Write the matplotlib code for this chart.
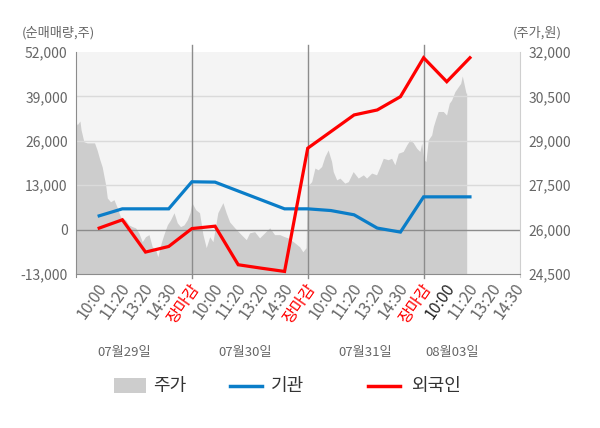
import matplotlib
matplotlib.use("Agg")
import matplotlib.pyplot as plt
from matplotlib.patches import Rectangle
from matplotlib.lines import Line2D
import numpy as np

plt.rcParams['font.family'] = ['Noto Sans CJK KR', 'DejaVu Sans']

# ---- data ----
tick_labels = ["10:00", "11:20", "13:20", "14:30", "장마감",
               "10:00", "11:20", "13:20", "14:30", "장마감",
               "10:00", "11:20", "13:20", "14:30", "장마감",
               "10:00", "11:20", "13:20", "14:30"]
day_labels = ["07월29일", "07월30일", "07월31일", "08월03일"]
day_label_pos = [2.1, 7.28, 12.49, 16.21]
close_pos = [5, 10, 15]

inst = [4030, 6080, 6080, 6080, 14000,
        13900, 11290, 8690, 6080, 6080,
        5580, 4330, 440, -730, 9590,
        9590, 9590]
foreign = [440, 2870, -6580, -4940, 300,
           1000, -10290, -11300, -12250, 23830,
           28700, 33570, 35030, 38920, 50320,
           43300, 50320]

price_x = [0, 0.05, 0.17, 0.22, 0.34, 0.48, 0.70, 0.80, 0.91, 1.03, 1.13, 1.28, 1.35,
           1.49, 1.64, 1.78, 1.92, 2.14, 2.28, 2.43, 2.57, 2.71, 2.86, 3.00, 3.15, 3.29,
           3.44, 3.53, 3.68, 3.79, 3.94, 4.08, 4.23, 4.37, 4.51, 4.66, 4.80, 4.92,
           5.00, 5.17, 5.33, 5.48, 5.62, 5.77, 5.91, 6.12, 6.34, 6.48, 6.63, 6.85,
           7.13, 7.35, 7.49, 7.71, 7.92, 8.14, 8.36, 8.57, 8.79, 9.00, 9.15, 9.43,
           9.65, 9.79, 9.93,
           9.98, 10.17, 10.31, 10.45, 10.60, 10.74, 10.88, 11.03, 11.10, 11.25, 11.39,
           11.60, 11.75, 11.96, 12.18, 12.40, 12.54, 12.76, 12.97, 13.12, 13.26, 13.47,
           13.62, 13.76, 13.91, 14.12, 14.27, 14.41, 14.55, 14.70, 14.84, 14.92,
           15.01, 15.10, 15.20, 15.35, 15.42, 15.53, 15.63, 15.85, 15.99, 16.11, 16.21,
           16.35, 16.50, 16.60, 16.67, 16.74, 16.83, 16.86]
price = [29650, 29540, 29670, 29370, 28970, 28930, 28930, 28930, 28690, 28360, 28120,
         27510, 27070, 26940, 27010, 26740, 26430, 26330, 26160, 26100, 26060, 25890,
         25590, 25760, 25830, 25420, 25320, 25080, 25560, 25830, 26160, 26330, 26570,
         26230, 26100, 26160, 26330, 26570,
         26910, 26670, 26570, 25830, 25390, 25760, 25590, 26570, 26910, 26570, 26260,
         26060, 25830, 25660, 25890, 25930, 25720, 25890, 26060, 25830, 25830, 25760,
         25720, 25560, 25420, 25250, 25390,
         27460, 27620, 28080, 28020, 28130, 28470, 28690, 28300, 27960, 27680, 27740,
         27570, 27620, 27960, 27740, 27850, 27740, 27910, 27850, 28130, 28410, 28360,
         28410, 28190, 28580, 28640, 28860, 29030, 28940, 28750, 28640, 28920,
         28360, 28300, 29030, 29200, 29480, 29760, 29990, 29990, 29870, 30270, 30380,
         30660, 30830, 30940, 31190, 30940, 30610, 30610]

left_ticks = [-13000, 0, 13000, 26000, 39000, 52000]
right_ticks = [24500, 26000, 27500, 29000, 30500, 32000]

# ---- style ----
C_BG = "#f4f4f4"
C_AREA = "#cdcdcd"
C_BLUE = "#0a7dc8"
C_RED = "#ff0000"
C_TXT = "#666666"
C_GRID = "#dadada"
C_DARK = "#8c8c8c"

fig = plt.figure(figsize=(6.0, 4.28), dpi=100)
W, H = 600, 428
L, R, T, B = 76, 520, 52, 274
ax = fig.add_axes([L / W, 1 - B / H, (R - L) / W, (B - T) / H])
ax.set_facecolor(C_BG)
ax.set_xlim(0, 19.16)
ax.set_ylim(24500, 32000)

# price area (right scale)
ax.fill_between(price_x, 24500, price, color=C_AREA, linewidth=0, zorder=1)

# grid lines
for v in right_ticks[1:-1]:
    ax.axhline(v, color=(C_DARK if v == 26000 else C_GRID), lw=1.0, zorder=2)
for p in close_pos:
    ax.axvline(p, ymin=-0.02, ymax=1.03, color=C_DARK, lw=1.0, zorder=2, clip_on=False)

ax.spines['top'].set_visible(False)
ax.spines['left'].set_color(C_DARK)
ax.spines['bottom'].set_color(C_DARK)
ax.spines['right'].set_color("#cfcfcf")
ax.spines['left'].set_bounds(24500 - 0.015 * 7500, 32000)
ax.spines['right'].set_bounds(24500 - 0.015 * 7500, 32000)

ax.set_xticks(np.arange(1, 20))
ax.set_xticklabels([])
ax.tick_params(axis='x', length=0)

# left-scale axes for the net buy lines
ax2 = ax.twinx()
ax2.set_ylim(-13000, 52000)
ax2.patch.set_visible(False)
for s in ax2.spines.values():
    s.set_visible(False)
ax2.yaxis.tick_left()
ax2.set_yticks(left_ticks)
ax2.set_yticklabels([f"{v:,}" for v in left_ticks], color=C_TXT, fontsize=10)
ax2.tick_params(axis='y', length=0, pad=6)

ax.yaxis.tick_right()
ax.set_yticks(right_ticks)
ax.set_yticklabels([f"{v:,}" for v in right_ticks], color=C_TXT, fontsize=10)
ax.tick_params(axis='y', length=0, pad=6)

line_x = np.arange(1, len(inst) + 1)
ax2.plot(line_x, inst, color=C_BLUE, lw=2.3, zorder=4, solid_joinstyle='miter')
ax2.plot(np.arange(1, len(foreign) + 1), foreign, color=C_RED, lw=2.3, zorder=5,
         solid_joinstyle='miter')

# x tick labels
trans = ax.get_xaxis_transform()
for i, lab in enumerate(tick_labels):
    pos = i + 1
    if lab == "장마감":
        col = C_RED
    elif i == 15:
        col = "#222222"
    else:
        col = C_TXT
    ax.text(pos + 0.2, -0.05, lab, transform=trans, rotation=55,
            rotation_mode='anchor', ha='right', va='center', fontsize=11.5,
            color=col)

for p, lab in zip(day_label_pos, day_labels):
    ax.text(p, -0.355, lab, transform=trans, ha='center', va='center',
            fontsize=9.5, color=C_TXT)

fig.text(22 / W, 1 - 33 / H, "(순매매량,주)", ha='left', va='center', fontsize=9.5, color=C_TXT)
fig.text(562 / W, 1 - 33 / H, "(주가,원)", ha='right', va='center', fontsize=9.5, color=C_TXT)

# legend
ly = 1 - 386 / H
fig.patches.append(Rectangle((114 / W, 1 - 393 / H), 32 / W, 15 / H,
                             transform=fig.transFigure, color=C_AREA, lw=0))
fig.lines.append(Line2D([230 / W, 262 / W], [ly, ly], transform=fig.transFigure,
                        color=C_BLUE, lw=2.5))
fig.lines.append(Line2D([368 / W, 400 / W], [ly, ly], transform=fig.transFigure,
                        color=C_RED, lw=2.5))
fig.text(153 / W, ly, "주가", ha='left', va='center', fontsize=13, color="#333333")
fig.text(271 / W, ly, "기관", ha='left', va='center', fontsize=13, color="#333333")
fig.text(411 / W, ly, "외국인", ha='left', va='center', fontsize=13, color="#333333")

fig.savefig("out.png", dpi=100, facecolor="white")
